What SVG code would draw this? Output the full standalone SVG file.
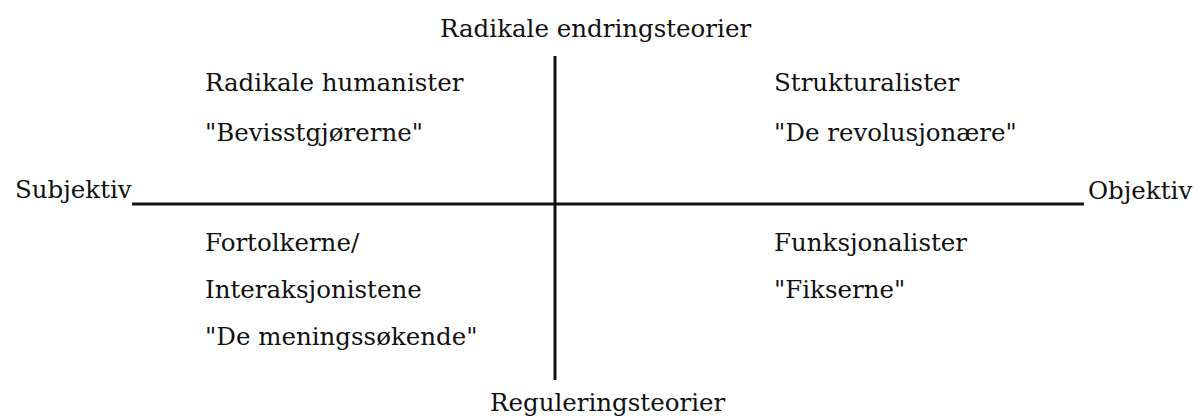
<svg xmlns="http://www.w3.org/2000/svg" width="1197" height="419" viewBox="0 0 1197 419">
  <style>
    .lbl { font-family: "DejaVu Serif", "Liberation Serif", serif; font-size: 24.5px; fill: #111; }
    .axis { stroke: #111; stroke-width: 3; fill: none; }
  </style>
  <rect width="1197" height="419" fill="#fff"/>
  <!-- axes -->
  <g id="connectors">
    <line class="axis" x1="132" y1="204" x2="1084" y2="204"/>
    <line class="axis" x1="555" y1="56" x2="555" y2="380" stroke-width="2.5"/>
  </g>
  <!-- axis end labels -->
  <g id="top-label"><text class="lbl" x="440" y="37">Radikale endringsteorier</text></g>
  <g id="bottom-label"><text class="lbl" x="490" y="411">Reguleringsteorier</text></g>
  <g id="left-label"><text class="lbl" x="15" y="198">Subjektiv</text></g>
  <g id="right-label"><text class="lbl" x="1088" y="199">Objektiv</text></g>
  <!-- quadrants -->
  <g id="q-top-left">
    <text class="lbl" x="205" y="91">Radikale humanister</text>
    <text class="lbl" x="205" y="141">"Bevisstgjørerne"</text>
  </g>
  <g id="q-top-right">
    <text class="lbl" x="774" y="91">Strukturalister</text>
    <text class="lbl" x="774" y="141">"De revolusjonære"</text>
  </g>
  <g id="q-bottom-left">
    <text class="lbl" x="205" y="251">Fortolkerne/</text>
    <text class="lbl" x="205" y="298">Interaksjonistene</text>
    <text class="lbl" x="205" y="345">"De meningssøkende"</text>
  </g>
  <g id="q-bottom-right">
    <text class="lbl" x="774" y="251">Funksjonalister</text>
    <text class="lbl" x="774" y="298">"Fikserne"</text>
  </g>
</svg>
